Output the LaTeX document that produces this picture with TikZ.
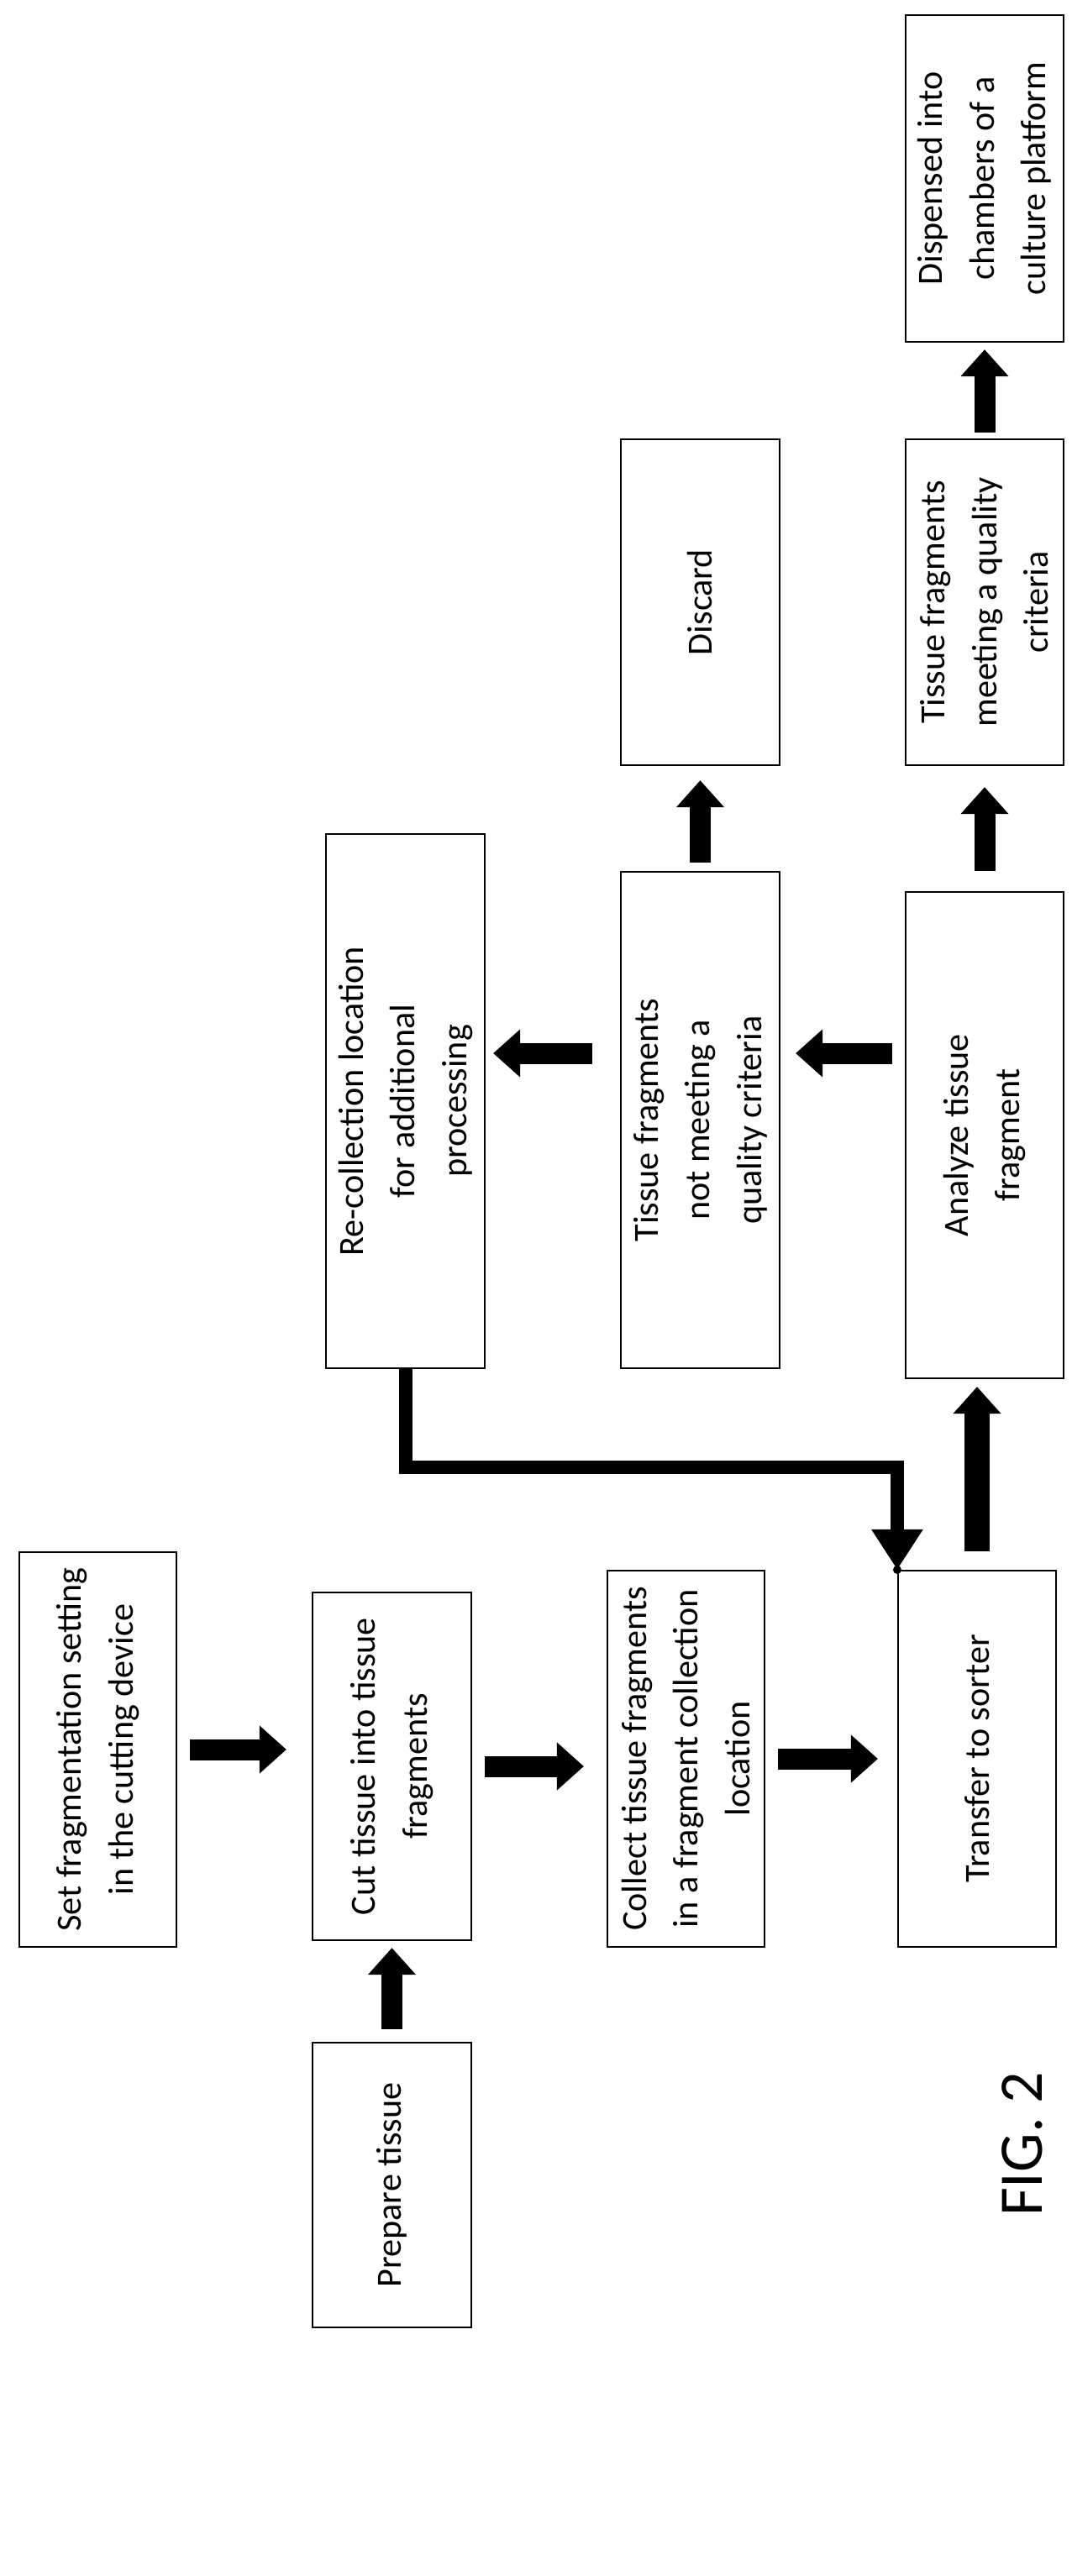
\documentclass[tikz,border=0pt]{standalone}
\usepackage{fontspec}
\setmainfont{Carlito}
\usepackage{tikz}
\usetikzlibrary{positioning}
\usetikzlibrary{arrows.meta}
\usetikzlibrary{calc}
\tikzstyle{stepBox} = [draw, rotate=90, align=center, inner sep=0pt, line width=0.6pt,
    font=\fontsize{12}{17.5}\selectfont]
\tikzstyle{blockArrow} = [line width=0.25cm, -{Triangle[width=0.55cm,length=0.32cm]},
    shorten <=0.15cm, shorten >=0.15cm]
\begin{document}
\begin{tikzpicture}
                    \useasboundingbox (0,0) rectangle (12.75,-30.67);
                    \node at (1.165,-20.83)  [stepBox,minimum width=4.70cm,minimum height=1.87cm] (nSet)   {Set fragmentation setting\\in the cutting device};
                    \node at (4.665,-21.03)  [stepBox,minimum width=4.14cm,minimum height=1.89cm] (nCut)   {Cut tissue into tissue\\fragments};
                    \node at (4.665,-26.015) [stepBox,minimum width=3.39cm,minimum height=1.89cm] (nPrep)  {Prepare tissue};
                    \node at (8.165,-20.94)  [stepBox,minimum width=4.48cm,minimum height=1.87cm] (nColl)  {Collect tissue fragments\\in a fragment collection\\location};
                    \node at (11.63,-20.94)  [stepBox,minimum width=4.48cm,minimum height=1.88cm] (nTrans) {Transfer to sorter};
                    \node at (11.72,-13.515) [stepBox,minimum width=5.79cm,minimum height=1.88cm] (nAnal)  {Analyze tissue\\fragment};
                    \node at (11.72,-7.17)   [stepBox,minimum width=3.88cm,minimum height=1.88cm] (nMeet)  {Tissue fragments\\meeting a quality\\criteria};
                    \node at (11.72,-2.125)  [stepBox,minimum width=3.89cm,minimum height=1.88cm] (nDisp)  {Dispensed into\\chambers of a\\culture platform};
                    \node at (8.335,-13.335) [stepBox,minimum width=5.91cm,minimum height=1.89cm] (nNotM)  {Tissue fragments\\not meeting a\\quality criteria};
                    \node at (8.335,-7.17)   [stepBox,minimum width=3.88cm,minimum height=1.89cm] (nDisc)  {Discard};
                    \node at (4.825,-13.11)  [stepBox,minimum width=6.36cm,minimum height=1.89cm] (nRecol) {Re-collection location\\for additional\\processing};
                    \node at (12.17,-25.53) [rotate=90,font=\fontsize{21}{25}\selectfont] (nFig) {FIG. 2};
                    \draw[blockArrow,shorten >=0.3cm]  (nSet.south)   -- (nSet.south -| nCut.north)  ;
                    \draw[blockArrow,shorten >=0.27cm] (nCut.south)   -- (nCut.south -| nColl.north) ;
                    \draw[blockArrow,shorten >=0.23cm] (nColl.south)  -- (nColl.south -| nTrans.north);
                    \draw[blockArrow,shorten >=0.08cm] (nPrep.east)   -- (nCut.west)   ;
                    \draw[blockArrow,line width=0.3cm,shorten >=0.09cm,shorten <=0.22cm] (nTrans.east) -- (nTrans.east |- nAnal.west);
                    \draw[blockArrow,shorten >=0.18cm] (nAnal.north |- 0,-12.54)  -- (nNotM.south |- 0,-12.54) ;
                    \draw[blockArrow,shorten <=0.33cm,shorten >=0.09cm] (nNotM.north |- 0,-12.54) -- (nRecol.south |- 0,-12.54);
                    \draw[blockArrow,shorten <=0.1cm,shorten >=0.17cm]  (nNotM.east)  -- (nDisc.west);
                    \draw[blockArrow,shorten <=0.24cm,shorten >=0.25cm] (nAnal.east)  -- (nMeet.west);
                    \draw[blockArrow,shorten <=0.07cm,shorten >=0.08cm] (nMeet.east)  -- (nDisp.west);
                    % return path to the sorter
                    \coordinate (cKink) at (nRecol.west |- 0,-17.47);
                    \coordinate (cKink2) at (nTrans.north east |- cKink);
                    \draw[line width=0.16cm,-{Triangle[width=0.58cm,length=0.48cm]}] (nRecol.west) -- (cKink) -- (cKink2) -- (nTrans.north east);
                    \fill (nTrans.north east) circle (0.05cm);
\end{tikzpicture}
\end{document}
